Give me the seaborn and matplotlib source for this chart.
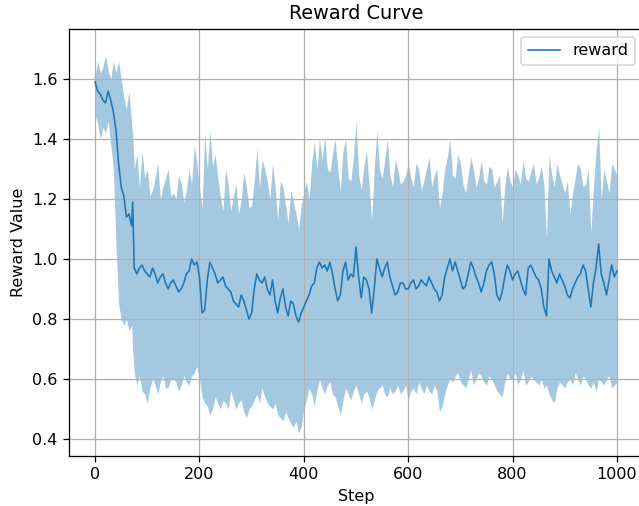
import pandas as pd
import seaborn as sns
import matplotlib.pyplot as plt

# coarse read-off of the curve
steps = [0, 5, 10, 15, 20, 25, 30, 35, 40, 45, 50, 55, 60, 65, 70, 72, 75, 80,
         90, 100, 110, 120, 130, 140, 150, 160, 170, 180,
         190, 200, 210, 220, 230, 240, 250, 260, 270, 280,
         290, 300, 310, 320, 330, 340, 350, 360, 370, 380,
         390, 400, 410, 420, 430, 440, 450, 460, 470, 480,
         490, 500, 510, 520, 530, 540, 550, 560, 570, 580,
         590, 600, 610, 620, 630, 640, 650, 660, 670, 680,
         690, 700, 710, 720, 730, 740, 750, 760, 770, 780,
         790, 800, 810, 820, 830, 840, 850, 860, 865, 870,
         880, 890, 900, 910, 920, 930, 940, 950, 960, 965,
         970, 980, 990, 1000]

reward = [1.59, 1.56, 1.55, 1.53, 1.52, 1.56, 1.53, 1.49, 1.43, 1.32, 1.24, 1.21, 1.14, 1.15, 1.11, 1.19, 0.97, 0.95,
          0.98, 0.95, 0.97, 0.92, 0.95, 0.90, 0.93, 0.89, 0.92, 0.96,
          0.98, 0.94, 0.83, 0.99, 0.95, 0.93, 0.91, 0.89, 0.85, 0.88,
          0.83, 0.82, 0.95, 0.92, 0.90, 0.93, 0.82, 0.90, 0.81, 0.85,
          0.79, 0.84, 0.88, 0.92, 0.99, 0.98, 0.99, 0.90, 0.88, 0.99,
          0.95, 1.04, 0.87, 0.93, 0.82, 1.00, 0.94, 0.99, 0.91, 0.89,
          0.92, 0.90, 0.93, 0.91, 0.92, 0.94, 0.90, 0.86, 0.94, 1.00,
          0.99, 0.93, 0.91, 0.99, 0.94, 0.89, 0.96, 0.99, 0.88, 0.89,
          0.98, 0.93, 0.96, 0.90, 0.97, 0.96, 0.93, 0.84, 0.81, 1.00,
          0.94, 0.95, 0.91, 0.87, 0.92, 0.95, 0.96, 0.84, 0.97, 1.05,
          0.95, 0.88, 0.98, 0.96]

upper = [1.61, 1.66, 1.62, 1.64, 1.68, 1.63, 1.60, 1.66, 1.62, 1.66, 1.60, 1.54, 1.50, 1.56, 1.45, 1.42, 1.30, 1.35,
         1.36, 1.30, 1.23, 1.32, 1.24, 1.30, 1.22, 1.28, 1.19, 1.30,
         1.38, 1.24, 1.42, 1.43, 1.35, 1.21, 1.30, 1.16, 1.25, 1.20,
         1.24, 1.18, 1.37, 1.33, 1.26, 1.32, 1.13, 1.24, 1.12, 1.19,
         1.10, 1.22, 1.20, 1.39, 1.40, 1.41, 1.29, 1.40, 1.23, 1.40,
         1.26, 1.46, 1.23, 1.36, 1.13, 1.43, 1.27, 1.40, 1.24, 1.30,
         1.26, 1.32, 1.24, 1.30, 1.26, 1.34, 1.28, 1.17, 1.30, 1.40,
         1.27, 1.32, 1.22, 1.34, 1.24, 1.33, 1.25, 1.30, 1.26, 1.12,
         1.31, 1.24, 1.28, 1.33, 1.26, 1.32, 1.27, 1.25, 1.07, 1.35,
         1.24, 1.28, 1.22, 1.15, 1.27, 1.30, 1.25, 1.09, 1.36, 1.44,
         1.20, 1.26, 1.32, 1.28]

lower = [1.48, 1.45, 1.40, 1.44, 1.42, 1.46, 1.38, 1.30, 1.05, 0.85, 0.80, 0.78, 0.80, 0.76, 0.78, 0.70, 0.62, 0.58,
         0.56, 0.52, 0.60, 0.55, 0.61, 0.57, 0.60, 0.56, 0.61, 0.58,
         0.62, 0.60, 0.52, 0.48, 0.54, 0.50, 0.52, 0.56, 0.50, 0.53,
         0.47, 0.51, 0.55, 0.57, 0.52, 0.50, 0.48, 0.46, 0.47, 0.44,
         0.42, 0.50, 0.57, 0.51, 0.60, 0.55, 0.59, 0.54, 0.48, 0.57,
         0.53, 0.58, 0.52, 0.56, 0.50, 0.56, 0.58, 0.54, 0.55, 0.58,
         0.56, 0.53, 0.57, 0.59, 0.55, 0.56, 0.58, 0.49, 0.55, 0.60,
         0.61, 0.59, 0.57, 0.63, 0.60, 0.61, 0.58, 0.60, 0.56, 0.54,
         0.62, 0.60, 0.58, 0.63, 0.59, 0.60, 0.58, 0.57, 0.58, 0.55,
         0.52, 0.59, 0.57, 0.60, 0.62, 0.58, 0.60, 0.57, 0.56, 0.60,
         0.59, 0.60, 0.57, 0.59]

# in-between read-offs for the noisy part
mid_steps = [85, 95, 105, 115, 125, 135, 145, 155, 165, 175,
             185, 195, 205, 215, 225, 235, 245, 255, 265, 275,
             285, 295, 305, 315, 325, 335, 345, 355, 365, 375,
             385, 395, 405, 415, 425, 435, 445, 455, 465, 475,
             485, 495, 505, 515, 525, 535, 545, 555, 565, 575,
             585, 595, 605, 615, 625, 635, 645, 655, 665, 675,
             685, 695, 705, 715, 725, 735, 745, 755, 765, 775,
             785, 795, 805, 815, 825, 835, 845, 855, 875, 885,
             895, 905, 915, 925, 935, 945, 955, 975, 985, 995]

mid_reward = [0.97, 0.96, 0.94, 0.95, 0.94, 0.92, 0.92, 0.91, 0.90, 0.95,
              1.00, 0.99, 0.82, 0.93, 0.97, 0.92, 0.94, 0.90, 0.86, 0.84,
              0.86, 0.80, 0.90, 0.93, 0.94, 0.88, 0.86, 0.87, 0.84, 0.86,
              0.81, 0.82, 0.86, 0.91, 0.97, 0.97, 0.96, 0.95, 0.86, 0.96,
              0.93, 0.94, 0.94, 0.94, 0.90, 0.90, 0.97, 0.97, 0.94, 0.88,
              0.92, 0.90, 0.92, 0.90, 0.93, 0.91, 0.92, 0.89, 0.88, 0.97,
              0.96, 0.96, 0.90, 0.95, 0.97, 0.92, 0.92, 0.98, 0.95, 0.86,
              0.94, 0.96, 0.95, 0.93, 0.88, 0.98, 0.94, 0.90, 0.96, 0.92,
              0.93, 0.88, 0.90, 0.94, 0.98, 0.90, 0.92, 0.92, 0.93, 0.94]

mid_upper = [1.24, 1.27, 1.21, 1.27, 1.20, 1.27, 1.21, 1.20, 1.25, 1.23,
             1.25, 1.32, 1.17, 1.30, 1.31, 1.27, 1.16, 1.25, 1.21, 1.15,
             1.29, 1.17, 1.26, 1.24, 1.30, 1.20, 1.24, 1.26, 1.18, 1.23,
             1.15, 1.18, 1.26, 1.32, 1.30, 1.33, 1.30, 1.35, 1.30, 1.36,
             1.27, 1.34, 1.28, 1.31, 1.25, 1.30, 1.30, 1.33, 1.28, 1.33,
             1.25, 1.28, 1.27, 1.32, 1.23, 1.30, 1.24, 1.30, 1.22, 1.34,
             1.28, 1.35, 1.25, 1.28, 1.30, 1.27, 1.26, 1.31, 1.24, 1.28,
             1.24, 1.26, 1.30, 1.25, 1.27, 1.29, 1.25, 1.31, 1.28, 1.32,
             1.25, 1.26, 1.22, 1.32, 1.24, 1.30, 1.24, 1.30, 1.22, 1.30]

mid_lower = [0.61, 0.55, 0.57, 0.58, 0.59, 0.57, 0.60, 0.59, 0.58, 0.59,
             0.61, 0.64, 0.54, 0.51, 0.50, 0.52, 0.53, 0.50, 0.53, 0.52,
             0.49, 0.50, 0.53, 0.52, 0.54, 0.51, 0.52, 0.47, 0.49, 0.45,
             0.46, 0.44, 0.53, 0.55, 0.56, 0.57, 0.58, 0.55, 0.51, 0.53,
             0.55, 0.56, 0.55, 0.55, 0.54, 0.53, 0.57, 0.55, 0.57, 0.56,
             0.55, 0.58, 0.56, 0.55, 0.57, 0.58, 0.55, 0.56, 0.51, 0.58,
             0.59, 0.62, 0.58, 0.60, 0.58, 0.62, 0.59, 0.61, 0.58, 0.55,
             0.59, 0.60, 0.62, 0.60, 0.58, 0.61, 0.59, 0.60, 0.53, 0.57,
             0.58, 0.59, 0.58, 0.60, 0.61, 0.58, 0.59, 0.58, 0.61, 0.58]

df = pd.concat([
    pd.DataFrame({'Step': steps, 'reward': reward, 'upper': upper, 'lower': lower}),
    pd.DataFrame({'Step': mid_steps, 'reward': mid_reward, 'upper': mid_upper, 'lower': mid_lower}),
]).sort_values('Step').reset_index(drop=True)

fig = plt.figure(figsize=(639 / 115.5, 506 / 115.5), dpi=115.5)
ax = fig.add_axes([69 / 639, 50 / 506, 574 / 639, 427 / 506])

ax.fill_between(df['Step'], df['lower'], df['upper'], color='C0', alpha=0.4, linewidth=0)
sns.lineplot(data=df, x='Step', y='reward', ax=ax, color='C0', linewidth=1, label='reward')

ax.set_xlim(-50, 1050)
ax.set_ylim(0.343, 1.767)
ax.set_xticks([0, 200, 400, 600, 800, 1000])
ax.set_yticks([0.4, 0.6, 0.8, 1.0, 1.2, 1.4, 1.6])
ax.grid(True)
ax.set_title('Reward Curve')
ax.set_xlabel('Step')
ax.set_ylabel('Reward Value')
ax.legend(loc='upper right')

fig.savefig('out.png', dpi=115.5)
